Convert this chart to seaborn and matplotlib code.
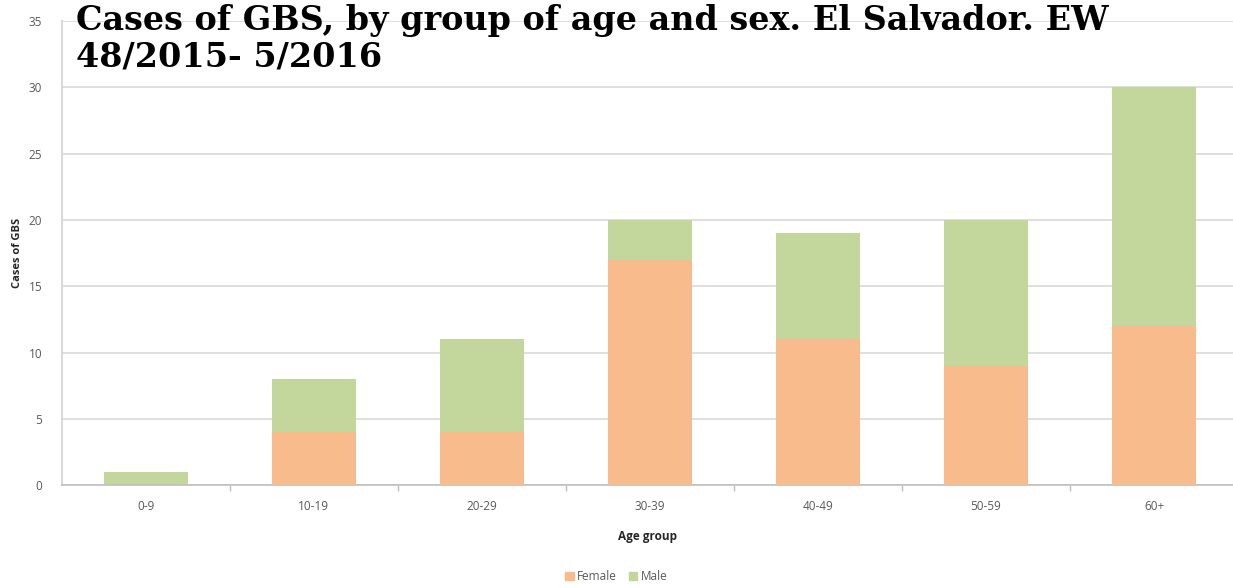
import matplotlib
matplotlib.use("Agg")
import matplotlib.pyplot as plt
from matplotlib.patches import Patch
import numpy as np
import pandas as pd
import seaborn as sns

# Données
age_groups = ["0-9", "10-19", "20-29", "30-39", "40-49", "50-59", "60+"]
female = [0, 4, 4, 17, 11, 9, 12]
male = [1, 4, 7, 3, 8, 11, 18]

female_color = "#F8BC8C"
male_color = "#C3D69B"
grid_color = "#D9D9D9"
text_color = "#595959"

df = pd.DataFrame({"age": age_groups, "female": female, "male": male})
df["total"] = df["female"] + df["male"]

sns.set_theme(style="white")
plt.rcParams["font.family"] = ["Open Sans", "DejaVu Sans"]

fig = plt.figure(figsize=(12.33, 5.88), dpi=100)
ax = fig.add_axes([0.050, 0.175, 0.95, 0.789])

# barres empilées : total (vert) puis femmes (orange) par-dessus
sns.barplot(data=df, x="age", y="total", color=male_color, width=0.5,
            saturation=1, linewidth=0, ax=ax, zorder=2)
sns.barplot(data=df, x="age", y="female", color=female_color, width=0.5,
            saturation=1, linewidth=0, ax=ax, zorder=3)

ax.set_ylim(0, 35)
ax.set_xlim(-0.5, 6.47)
ax.set_yticks(np.arange(0, 36, 5))
ax.set_xticks(np.arange(0.5, 6, 1), minor=True)
ax.yaxis.grid(True, color=grid_color, linewidth=1.2, zorder=0)
ax.set_axisbelow(True)
for s in ["top", "right"]:
    ax.spines[s].set_visible(False)
ax.spines["left"].set_color(grid_color)
ax.spines["left"].set_linewidth(1.5)
ax.spines["bottom"].set_color("#BFBFBF")
ax.spines["bottom"].set_linewidth(1.2)

ax.tick_params(axis="y", labelsize=8.5, colors=text_color, length=0, pad=14)
ax.tick_params(axis="x", which="major", labelsize=8.5, colors=text_color, length=0, pad=11)
ax.tick_params(axis="x", which="minor", bottom=True, length=4, width=1, color="#BFBFBF")

ax.set_xlabel("Age group", fontsize=8.5, fontweight="bold", color="#262626", labelpad=12)
ax.set_ylabel("Cases of GBS", fontsize=8, fontweight="bold", color="#262626", labelpad=4)

handles = [Patch(color=female_color, label="Female"), Patch(color=male_color, label="Male")]
fig.legend(handles=handles, loc="lower center", bbox_to_anchor=(0.5, -0.01), ncol=2,
           frameon=False, fontsize=8.5, handlelength=0.7, handleheight=0.7,
           handletextpad=0.3, columnspacing=1.0, labelcolor=text_color)

fig.text(76 / 1233, 1 - 4 / 588,
         "Cases of GBS, by group of age and sex. El Salvador. EW\n48/2015- 5/2016",
         fontsize=24, fontweight="bold", family="DejaVu Serif", va="top", ha="left",
         linespacing=1.15, color="black")

fig.savefig("out.png", dpi=100, facecolor="white")
